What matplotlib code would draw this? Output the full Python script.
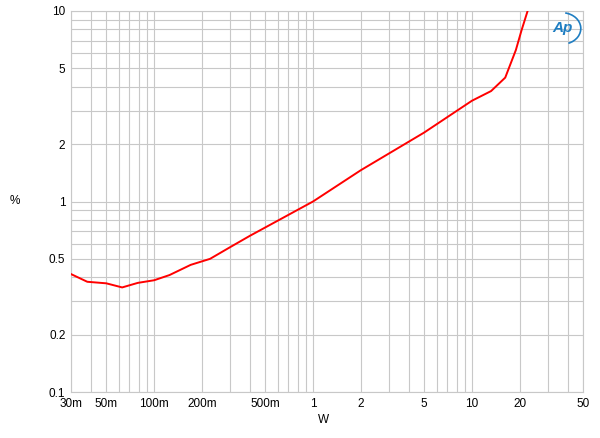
import matplotlib
matplotlib.use('Agg')
import matplotlib.pyplot as plt
from matplotlib.patches import Arc
from matplotlib.ticker import FixedLocator, NullFormatter

plt.rcParams['font.family'] = ['Liberation Sans', 'DejaVu Sans']

# THD+N vs output power
watts = [0.03, 0.038, 0.05, 0.063, 0.079, 0.10, 0.125, 0.17, 0.225, 0.30, 0.40,
         1.0, 2.0, 5.0, 10.0, 13.2, 16.2, 18.9, 20.5, 22.4]
thd = [0.416, 0.379, 0.372, 0.354, 0.374, 0.386, 0.411, 0.465, 0.50, 0.575, 0.66,
       1.0, 1.46, 2.30, 3.38, 3.80, 4.47, 6.24, 7.9, 10.0]

x_ticks = [0.03, 0.05, 0.1, 0.2, 0.5, 1, 2, 5, 10, 20, 50]
x_labels = ['30m', '50m', '100m', '200m', '500m', '1', '2', '5', '10', '20', '50']
y_ticks = [0.1, 0.2, 0.5, 1, 2, 5, 10]
y_labels = ['0.1', '0.2', '0.5', '1', '2', '5', '10']

fig = plt.figure(figsize=(6, 4.38), dpi=100)
ax = fig.add_axes([0.1183, 0.105, 0.8534, 0.8699])

ax.plot(watts, thd, color='#ff0000', linewidth=1.4, zorder=3)

ax.set_xscale('log')
ax.set_yscale('log')
ax.set_xlim(0.03, 50)
ax.set_ylim(0.1, 10)

ax.xaxis.set_major_locator(FixedLocator(x_ticks))
ax.set_xticklabels(x_labels)
ax.yaxis.set_major_locator(FixedLocator(y_ticks))
ax.set_yticklabels(y_labels)

# minor grid on every 1-9 step
minor_x = [m * 10.0 ** e for e in range(-2, 2) for m in range(1, 10)]
minor_x = [v for v in minor_x if 0.03 <= v <= 50]
minor_y = [m * 10.0 ** e for e in range(-1, 1) for m in range(1, 10)]
ax.xaxis.set_minor_locator(FixedLocator(minor_x))
ax.yaxis.set_minor_locator(FixedLocator(minor_y))
ax.xaxis.set_minor_formatter(NullFormatter())
ax.yaxis.set_minor_formatter(NullFormatter())

ax.grid(True, which='both', color='#c8c8c8', linewidth=0.8)
ax.tick_params(which='both', length=0, labelsize=8.5, colors='#000000', pad=4)
for s in ax.spines.values():
    s.set_color('#c8c8c8')
    s.set_linewidth(0.8)

fig.text(0.025, 0.54, '%', fontsize=8.5, ha='center', va='center')
fig.text(0.54, 0.04, 'W', fontsize=8.5, ha='center', va='center')

# Audio Precision logo
fig.text(0.937, 0.935, 'Ap', fontsize=11, style='italic', color='#1f7ec2',
         ha='center', va='center', fontweight='bold')
logo_ax = fig.add_axes([0.905, 0.895, 0.07, 0.08])
logo_ax.set_xlim(0, 1)
logo_ax.set_ylim(0, 1)
logo_ax.axis('off')
logo_ax.add_patch(Arc((0.45, 0.5), 0.9, 0.9, theta1=-70, theta2=80, color='#1f7ec2', linewidth=1.2))

fig.savefig('out.png', dpi=100)
